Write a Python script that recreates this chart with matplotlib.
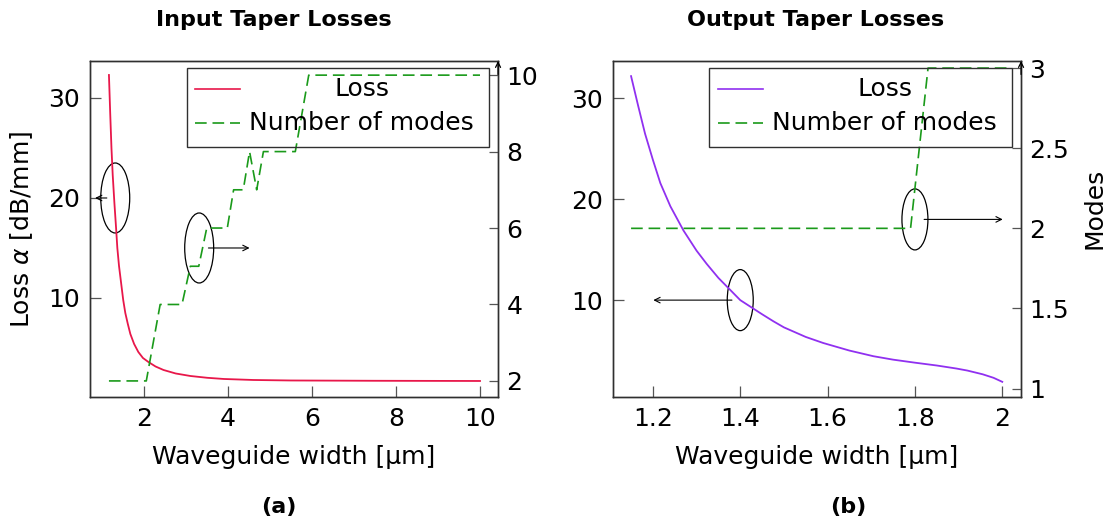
import matplotlib
matplotlib.use("Agg")
import matplotlib.pyplot as plt
from matplotlib.patches import Ellipse, Rectangle
from matplotlib.lines import Line2D

plt.rcParams['font.family'] = ['DejaVu Sans']
plt.rcParams['mathtext.fontset'] = 'dejavusans'

# Input taper: loss vs waveguide width
width_in = [1.16, 1.19, 1.22, 1.25, 1.29, 1.33, 1.36, 1.40, 1.45, 1.50, 1.55, 1.61, 1.67,
            1.76, 1.86, 1.97, 2.10, 2.27, 2.46, 2.75, 3.10, 3.50, 3.90, 4.60, 5.50, 7.50, 10.0]
loss_in = [32.3, 28.5, 25.0, 22.3, 19.5, 17.0, 15.0, 13.2, 11.5, 9.8, 8.5, 7.4, 6.4,
           5.4, 4.6, 4.0, 3.6, 3.15, 2.8, 2.45, 2.2, 2.02, 1.9, 1.8, 1.75, 1.72, 1.7]

# Input taper: number of guided modes
width_modes_in = [1.16, 2.05, 2.38, 2.90, 3.10, 3.30, 3.49, 3.98, 4.13, 4.36, 4.51, 4.68, 4.84, 5.60, 5.92, 10.0]
modes_in = [2, 2, 4, 4, 5, 5, 6, 6, 7, 7, 8, 7, 8, 8, 10, 10]

# Output taper: loss vs waveguide width
width_out = [1.15, 1.166, 1.182, 1.20, 1.217, 1.24, 1.27, 1.30, 1.323, 1.35, 1.40, 1.45,
             1.476, 1.50, 1.55, 1.59, 1.65, 1.705, 1.75, 1.80, 1.85, 1.895, 1.92, 1.955, 1.98, 2.0]
loss_out = [32.2, 29.3, 26.5, 23.9, 21.6, 19.3, 16.9, 14.9, 13.6, 12.2, 10.0, 8.6,
            7.9, 7.3, 6.35, 5.75, 5.0, 4.44, 4.1, 3.8, 3.52, 3.22, 3.02, 2.65, 2.3, 1.9]

# Output taper: number of guided modes
width_modes_out = [1.15, 1.79, 1.83, 2.02]
modes_out = [2, 2, 3, 3]

loss_ticks = [10, 20, 30]
xticks_in = [2, 4, 6, 8, 10]
modes_ticks_in = [2, 4, 6, 8, 10]
xticks_out = [1.2, 1.4, 1.6, 1.8, 2.0]
xlabels_out = ['1.2', '1.4', '1.6', '1.8', '2']
modes_ticks_out = [1, 1.5, 2, 2.5, 3]
modes_labels_out = ['1', '1.5', '2', '2.5', '3']

RED = '#e8174a'
PURPLE = '#9030f0'
GREEN = '#1a9a1a'
FRAME = '#303030'
DASH = (0, (7, 3.5))
FS = 18

fig = plt.figure(figsize=(11.09, 5.24), dpi=100)
ax1 = fig.add_axes([0.0812, 0.2424, 0.3679, 0.6412])
ax2 = fig.add_axes([0.5525, 0.2424, 0.3682, 0.6412])
tw1 = ax1.twinx()
tw2 = ax2.twinx()


def style_axes(ax, tw):
    for a in (ax, tw):
        for s in a.spines.values():
            s.set_color(FRAME)
            s.set_linewidth(1.0)
    ax.tick_params(axis='both', direction='in', length=8, width=0.9, color='#555555',
                   labelsize=FS, pad=7, top=False, right=False)
    tw.tick_params(axis='y', direction='in', length=6.5, width=0.9, color='#555555',
                   labelsize=FS, pad=6)
    # small arrow tip on top of the right axis line
    tw.annotate('', xy=(1.0, 1.0), xytext=(1.0, 0.96), xycoords='axes fraction',
                arrowprops=dict(arrowstyle='->', lw=0.9, color='black',
                                shrinkA=0, shrinkB=0, mutation_scale=9),
                annotation_clip=False)


def draw_key(tw, color):
    tr = tw.transAxes
    tw.add_patch(Rectangle((0.237, 0.743), 0.742, 0.235, transform=tr, fill=False,
                           ec=FRAME, lw=1.0, zorder=5))
    tw.add_line(Line2D([0.257, 0.368], [0.917, 0.917], transform=tr, color=color, lw=1.2))
    tw.add_line(Line2D([0.257, 0.368], [0.815, 0.815], transform=tr, color=GREEN,
                       lw=1.2, linestyle=DASH))
    tw.text(0.666, 0.917, 'Loss', transform=tr, ha='center', va='center', fontsize=FS)
    tw.text(0.666, 0.815, 'Number of modes', transform=tr, ha='center', va='center', fontsize=FS)


def bubble(ax, center, w, h, tail, head):
    ax.add_patch(Ellipse(center, w, h, fill=False, ec='black', lw=0.9))
    ax.annotate('', xy=(head, center[1]), xytext=(tail, center[1]),
                arrowprops=dict(arrowstyle='->', lw=0.8, color='black',
                                shrinkA=0, shrinkB=0, mutation_scale=10),
                annotation_clip=False)


# ---- (a) input taper ----
ax1.plot(width_in, loss_in, color=RED, lw=1.3)
tw1.plot(width_modes_in, modes_in, color=GREEN, lw=1.2, linestyle=DASH)
ax1.set_xlim(0.71, 10.43)
ax1.set_ylim(0.1, 33.7)
tw1.set_ylim(1.58, 10.37)
ax1.set_xticks(xticks_in)
ax1.set_yticks(loss_ticks)
tw1.set_yticks(modes_ticks_in)
ax1.set_xlabel('Waveguide width [μm]', fontsize=FS, labelpad=10)
ax1.set_ylabel(r'Loss $\alpha$ [dB/mm]', fontsize=FS, labelpad=10)
style_axes(ax1, tw1)
draw_key(tw1, RED)
bubble(ax1, (1.31, 20), 0.69, 7.0, 1.11, 0.83)
bubble(ax1, (3.31, 15), 0.69, 7.0, 3.53, 4.51)

# ---- (b) output taper ----
ax2.plot(width_out, loss_out, color=PURPLE, lw=1.3)
tw2.plot(width_modes_out, modes_out, color=GREEN, lw=1.2, linestyle=DASH)
ax2.set_xlim(1.108, 2.043)
ax2.set_ylim(0.4, 33.7)
tw2.set_ylim(0.948, 3.044)
ax2.set_xticks(xticks_out, xlabels_out)
ax2.set_yticks(loss_ticks)
tw2.set_yticks(modes_ticks_out, modes_labels_out)
ax2.set_xlabel('Waveguide width [μm]', fontsize=FS, labelpad=10)
style_axes(ax2, tw2)
draw_key(tw2, PURPLE)
bubble(ax2, (1.40, 10.0), 0.0595, 6.05, 1.381, 1.201)
bubble(ax2, (1.80, 18.0), 0.0595, 6.05, 1.821, 2.001)

fig.text(1094 / 1109, 1 - 208 / 524, 'Modes', rotation=90, ha='center', va='center', fontsize=FS)

fig.text(274 / 1109, 1 - 20 / 524, 'Input Taper Losses', ha='center', va='center',
         fontsize=16, fontweight='bold')
fig.text(816 / 1109, 1 - 20 / 524, 'Output Taper Losses', ha='center', va='center',
         fontsize=16, fontweight='bold')
fig.text(279 / 1109, 1 - 507 / 524, '(a)', ha='center', va='center', fontsize=16, fontweight='bold')
fig.text(848 / 1109, 1 - 507 / 524, '(b)', ha='center', va='center', fontsize=16, fontweight='bold')

fig.savefig('out.png', dpi=100)
